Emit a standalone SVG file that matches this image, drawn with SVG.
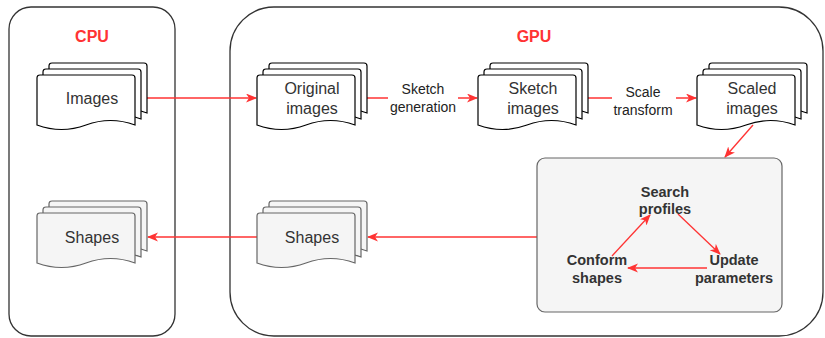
<svg xmlns="http://www.w3.org/2000/svg" xmlns:xlink="http://www.w3.org/1999/xlink" width="825" height="338" viewBox="0 0 825 338">
<style>
.cont{fill:#fff;stroke:#333;stroke-width:1.3}
.doc use{fill:#fff;stroke:#000;stroke-width:1.2}
.docg use{fill:#f5f5f5;stroke:#666;stroke-width:1.2}
.t{font-family:"Liberation Sans",Arial,sans-serif;font-size:16px;fill:#333;stroke:none;text-anchor:middle}
.lbl{font-family:"Liberation Sans",Arial,sans-serif;font-size:14px;fill:#222;stroke:none;text-anchor:middle}
.b{font-family:"Liberation Sans",Arial,sans-serif;font-size:14.5px;font-weight:bold;fill:#333;stroke:none;text-anchor:middle}
.h{font-family:"Liberation Sans",Arial,sans-serif;font-size:16px;font-weight:bold;fill:#FF3333;stroke:none;text-anchor:middle}
.e{fill:none;stroke:#FF3333;stroke-width:1.3;marker-end:url(#ah)}
</style>
<defs>
<marker id="ah" markerUnits="userSpaceOnUse" markerWidth="12" markerHeight="10" refX="10" refY="4.5" orient="auto">
<path d="M0,0 L11,4.5 L0,9 L3,4.5 Z" fill="#FF3333"/>
</marker>
<path id="d" d="M0,3 Q0,0 3,0 L95,0 Q98,0 98,3 L98,50 Q73.5,41 49,50 Q24.5,59 0,50 Z"/>
</defs>
<g id="cpu"><rect class="cont" x="9" y="7" width="166" height="329" rx="22"/><text class="h" x="92" y="42">CPU</text></g>
<g id="gpu"><rect class="cont" x="230" y="7" width="593" height="329" rx="44"/><text class="h" x="534" y="42">GPU</text></g>
<g id="connectors">
<path class="e" d="M147,98 L256,98"/>
<path class="e" d="M367,98 L477,98"/>
<path class="e" d="M588,98 L696,98"/>
<path class="e" d="M753,125 L725,157"/>
<path class="e" d="M537,237 L368,237"/>
<path class="e" d="M257,237 L148,237"/>
<rect x="388" y="78" width="70" height="38" fill="#fff"/>
<text class="lbl" x="423" y="94">Sketch</text><text class="lbl" x="423" y="112">generation</text>
<rect x="612" y="82" width="64" height="36" fill="#fff"/>
<text class="lbl" x="643" y="97">Scale</text><text class="lbl" x="643" y="115">transform</text>
</g>
<g id="cpu-images" class="doc"><use xlink:href="#d" x="49" y="63"/><use xlink:href="#d" x="43" y="69"/><use xlink:href="#d" x="37" y="75"/><text class="t" x="92" y="104">Images</text></g>
<g id="original-images" class="doc"><use xlink:href="#d" x="269" y="63"/><use xlink:href="#d" x="263" y="69"/><use xlink:href="#d" x="257" y="75"/><text class="t" x="312" y="94">Original</text><text class="t" x="312" y="114">images</text></g>
<g id="sketch-images" class="doc"><use xlink:href="#d" x="490" y="63"/><use xlink:href="#d" x="484" y="69"/><use xlink:href="#d" x="478" y="75"/><text class="t" x="533" y="94">Sketch</text><text class="t" x="533" y="114">images</text></g>
<g id="scaled-images" class="doc"><use xlink:href="#d" x="709" y="63"/><use xlink:href="#d" x="703" y="69"/><use xlink:href="#d" x="697" y="75"/><text class="t" x="752" y="94">Scaled</text><text class="t" x="752" y="114">images</text></g>
<g id="cpu-shapes" class="docg"><use xlink:href="#d" x="49" y="201"/><use xlink:href="#d" x="43" y="207"/><use xlink:href="#d" x="37" y="213"/><text class="t" x="92" y="243">Shapes</text></g>
<g id="gpu-shapes" class="docg"><use xlink:href="#d" x="269" y="201"/><use xlink:href="#d" x="263" y="207"/><use xlink:href="#d" x="257" y="213"/><text class="t" x="312" y="243">Shapes</text></g>
<g id="process"><rect x="537" y="158" width="245" height="154" rx="8" fill="#f5f5f5" stroke="#666" stroke-width="1.2"/></g>
<g id="cycle-connectors">
<path class="e" d="M612,256 L650,215"/>
<path class="e" d="M678,214 L720,254"/>
<path class="e" d="M707,268 L628,268"/>
</g>
<g id="search-profiles"><text class="b" x="665" y="197">Search</text><text class="b" x="665" y="214">profiles</text></g>
<g id="conform-shapes"><text class="b" x="597" y="265">Conform</text><text class="b" x="597" y="283">shapes</text></g>
<g id="update-parameters"><text class="b" x="734" y="265">Update</text><text class="b" x="734" y="283">parameters</text></g>
</svg>
